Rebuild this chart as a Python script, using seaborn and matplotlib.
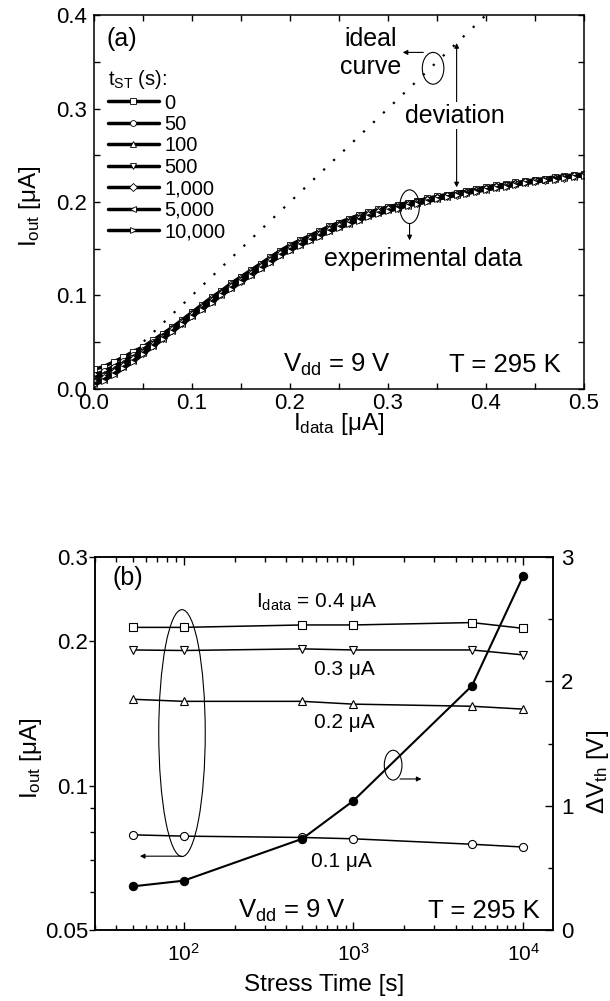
import matplotlib
matplotlib.use("Agg")
import matplotlib.pyplot as plt
from matplotlib.patches import Ellipse
from matplotlib.ticker import MultipleLocator, FixedLocator, FixedFormatter, NullFormatter, LogLocator, FormatStrFormatter
import seaborn as sns

sns.set_style("ticks")
plt.rcParams["font.family"] = ["Liberation Sans", "DejaVu Sans"]
plt.rcParams["mathtext.fontset"] = "custom"
plt.rcParams["mathtext.rm"] = "Liberation Sans"
plt.rcParams["mathtext.it"] = "Liberation Sans"
plt.rcParams["mathtext.default"] = "regular"
plt.rcParams["axes.linewidth"] = 1.1
plt.rcParams["axes.edgecolor"] = "black"
plt.rcParams["text.color"] = "black"
plt.rcParams["xtick.color"] = "black"
plt.rcParams["ytick.color"] = "black"
plt.rcParams["axes.labelcolor"] = "black"

# ---- panel (a): output current vs data current, one curve per stress time ----
i_data = [0.00, 0.01, 0.02, 0.03, 0.04, 0.05, 0.06, 0.07, 0.08, 0.09,
          0.10, 0.11, 0.12, 0.13, 0.14, 0.15, 0.16, 0.17, 0.18, 0.19,
          0.20, 0.21, 0.22, 0.23, 0.24, 0.25, 0.26, 0.27, 0.28, 0.29,
          0.30, 0.31, 0.32, 0.33, 0.34, 0.35, 0.36, 0.37, 0.38, 0.39,
          0.40, 0.41, 0.42, 0.43, 0.44, 0.45, 0.46, 0.47, 0.48, 0.49, 0.50]

iout_t0 = [0.021, 0.024, 0.029, 0.034, 0.040, 0.045, 0.052, 0.059, 0.066, 0.074,
           0.082, 0.090, 0.098, 0.105, 0.113, 0.120, 0.127, 0.134, 0.141, 0.148,
           0.154, 0.159, 0.164, 0.169, 0.174, 0.178, 0.182, 0.186, 0.189, 0.192,
           0.195, 0.197, 0.199, 0.201, 0.204, 0.206, 0.208, 0.210, 0.212, 0.214,
           0.216, 0.218, 0.219, 0.221, 0.222, 0.224, 0.225, 0.227, 0.228, 0.229, 0.230]
iout_t50 = [0.015, 0.019, 0.024, 0.030, 0.036, 0.042, 0.050, 0.057, 0.065, 0.073,
            0.081, 0.089, 0.097, 0.104, 0.112, 0.119, 0.126, 0.133, 0.140, 0.147,
            0.153, 0.158, 0.163, 0.168, 0.173, 0.177, 0.181, 0.185, 0.188, 0.191,
            0.194, 0.197, 0.199, 0.201, 0.203, 0.205, 0.207, 0.209, 0.211, 0.213,
            0.215, 0.217, 0.218, 0.220, 0.221, 0.223, 0.224, 0.226, 0.227, 0.228, 0.229]
iout_t100 = [0.012, 0.016, 0.021, 0.028, 0.034, 0.041, 0.049, 0.056, 0.064, 0.072,
             0.080, 0.088, 0.096, 0.104, 0.111, 0.118, 0.125, 0.132, 0.139, 0.146,
             0.152, 0.157, 0.162, 0.167, 0.172, 0.176, 0.180, 0.184, 0.187, 0.190,
             0.193, 0.196, 0.198, 0.200, 0.203, 0.205, 0.207, 0.209, 0.211, 0.213,
             0.215, 0.217, 0.218, 0.220, 0.221, 0.223, 0.224, 0.226, 0.227, 0.228, 0.229]
iout_t500 = [0.009, 0.014, 0.019, 0.026, 0.033, 0.040, 0.048, 0.056, 0.064, 0.072,
             0.080, 0.087, 0.095, 0.102, 0.110, 0.117, 0.124, 0.131, 0.138, 0.145,
             0.151, 0.156, 0.161, 0.166, 0.171, 0.175, 0.179, 0.183, 0.186, 0.189,
             0.192, 0.195, 0.197, 0.200, 0.202, 0.204, 0.206, 0.208, 0.210, 0.212,
             0.214, 0.216, 0.218, 0.219, 0.221, 0.222, 0.224, 0.225, 0.227, 0.228, 0.229]
iout_t1000 = [0.007, 0.012, 0.018, 0.025, 0.032, 0.039, 0.047, 0.055, 0.063, 0.071,
              0.079, 0.087, 0.094, 0.102, 0.109, 0.116, 0.123, 0.130, 0.137, 0.144,
              0.150, 0.155, 0.160, 0.165, 0.170, 0.174, 0.178, 0.182, 0.186, 0.189,
              0.192, 0.194, 0.197, 0.199, 0.202, 0.204, 0.206, 0.208, 0.210, 0.212,
              0.214, 0.216, 0.217, 0.219, 0.221, 0.222, 0.224, 0.225, 0.226, 0.228, 0.229]
iout_t5000 = [0.005, 0.010, 0.016, 0.023, 0.030, 0.038, 0.046, 0.054, 0.062, 0.070,
              0.078, 0.086, 0.093, 0.101, 0.108, 0.115, 0.122, 0.129, 0.136, 0.143,
              0.149, 0.154, 0.159, 0.164, 0.169, 0.173, 0.177, 0.181, 0.185, 0.188,
              0.191, 0.194, 0.196, 0.199, 0.201, 0.203, 0.205, 0.208, 0.210, 0.212,
              0.213, 0.215, 0.217, 0.219, 0.220, 0.222, 0.223, 0.225, 0.226, 0.227, 0.228]
iout_t10000 = [0.004, 0.009, 0.015, 0.022, 0.029, 0.037, 0.045, 0.053, 0.061, 0.069,
               0.077, 0.085, 0.092, 0.100, 0.107, 0.114, 0.121, 0.128, 0.135, 0.142,
               0.148, 0.153, 0.158, 0.163, 0.168, 0.172, 0.176, 0.180, 0.184, 0.187,
               0.190, 0.193, 0.196, 0.198, 0.200, 0.203, 0.205, 0.207, 0.209, 0.211,
               0.213, 0.215, 0.216, 0.218, 0.220, 0.221, 0.223, 0.224, 0.226, 0.227, 0.228]

stress_labels = ["0", "50", "100", "500", "1,000", "5,000", "10,000"]
stress_markers = ["s", "o", "^", "v", "D", "<", ">"]

ideal_x = [0.0, 0.4]
ideal_y = [0.0, 0.4]

# ---- panel (b): output current and threshold shift vs stress time ----
stress_time = [50, 100, 500, 1000, 5000, 10000]
iout_04uA = [0.214, 0.214, 0.2165, 0.2165, 0.219, 0.213]
iout_03uA = [0.192, 0.1915, 0.193, 0.192, 0.192, 0.1875]
iout_02uA = [0.1515, 0.150, 0.150, 0.148, 0.1465, 0.1445]
iout_01uA = [0.079, 0.0785, 0.078, 0.0775, 0.0755, 0.0745]
delta_vth = [0.351, 0.397, 0.734, 1.04, 1.965, 2.846]

fig = plt.figure(figsize=(6.1, 10.01), dpi=100)

# ================= panel (a) =================
ax_a = fig.add_axes([0.1541, 0.6114, 0.8033, 0.3736])

sns.lineplot(x=ideal_x, y=ideal_y, ax=ax_a, color="black", linewidth=1.6,
             linestyle=(0, (1, 5.2)), sort=False)

all_curves = [iout_t0, iout_t50, iout_t100, iout_t500, iout_t1000, iout_t5000, iout_t10000]
for lab, mk, vals in zip(stress_labels, stress_markers, all_curves):
    ms = 3.6 if mk == "D" else 4.2
    sns.lineplot(x=i_data, y=vals, ax=ax_a, color="black", linewidth=2.5, marker=mk,
                 markersize=ms, markerfacecolor="white", markeredgecolor="black",
                 markeredgewidth=0.6, label=lab, sort=False)

handles, labels = ax_a.get_legend_handles_labels()
handles, labels = handles[-7:], labels[-7:]
ax_a.legend(handles, labels, title="t$_{ST}$ (s):", loc="upper left",
            bbox_to_anchor=(0.029, 0.858), frameon=False, fontsize=14.5,
            title_fontsize=14.5, handlelength=2.5, handletextpad=0.3,
            labelspacing=0.12, borderpad=0, borderaxespad=0, alignment="left")

ax_a.set_xlim(0, 0.5)
ax_a.set_ylim(0, 0.4)
ax_a.xaxis.set_major_locator(MultipleLocator(0.1))
ax_a.xaxis.set_minor_locator(MultipleLocator(0.05))
ax_a.yaxis.set_major_locator(MultipleLocator(0.1))
ax_a.yaxis.set_minor_locator(MultipleLocator(0.05))
ax_a.xaxis.set_major_formatter(FormatStrFormatter("%.1f"))
ax_a.yaxis.set_major_formatter(FormatStrFormatter("%.1f"))
ax_a.tick_params(which="both", direction="in", top=True, right=True, length=4.5,
                 width=1.0, labelsize=16)
ax_a.tick_params(axis="x", pad=3)
ax_a.tick_params(axis="y", pad=5)

ax_a.set_xlabel("I$_{data}$ [μA]", fontsize=17.5)
ax_a.set_ylabel("I$_{out}$ [μA]", fontsize=17.5)
ax_a.xaxis.set_label_coords(0.5, -0.058)
ax_a.yaxis.set_label_coords(-0.105, 0.49)

ax_a.text(0.0265, 0.936, "(a)", transform=ax_a.transAxes, fontsize=18,
          ha="left", va="center")
ax_a.text(0.282, 0.374, "ideal", fontsize=18, ha="center", va="center")
ax_a.text(0.282, 0.344, "curve", fontsize=18, ha="center", va="center")
ax_a.add_patch(Ellipse((0.346, 0.343), 0.022, 0.034, fill=False, lw=0.8, ec="black"))
ax_a.annotate("", xy=(0.315, 0.360), xytext=(0.336, 0.360),
              arrowprops=dict(arrowstyle="-|>", lw=0.8, color="black",
                              mutation_scale=7, shrinkA=0, shrinkB=0))
ax_a.annotate("", xy=(0.370, 0.370), xytext=(0.370, 0.2157),
              arrowprops=dict(arrowstyle="<|-|>", lw=0.8, color="black",
                              mutation_scale=7, shrinkA=0, shrinkB=0))
ax_a.text(0.368, 0.292, "deviation", fontsize=18, ha="center", va="center", zorder=6,
          bbox=dict(facecolor="white", edgecolor="none", pad=1.0))
ax_a.add_patch(Ellipse((0.322, 0.195), 0.02, 0.036, fill=False, lw=0.8, ec="black", zorder=5))
ax_a.annotate("", xy=(0.322, 0.159), xytext=(0.322, 0.177),
              arrowprops=dict(arrowstyle="-|>", lw=0.8, color="black",
                              mutation_scale=7, shrinkA=0, shrinkB=0))
ax_a.text(0.336, 0.1316, "experimental data", fontsize=18, ha="center", va="baseline")
ax_a.text(0.248, 0.018, "V$_{dd}$ = 9 V", fontsize=18.5, ha="center", va="baseline")
ax_a.text(0.419, 0.018, "T = 295 K", fontsize=18.5, ha="center", va="baseline")

# ================= panel (b) =================
ax_b = fig.add_axes([0.1557, 0.0709, 0.7508, 0.3726])
ax_b.set_xscale("log")
ax_b.set_yscale("log")

iout_series = [(iout_04uA, "s"), (iout_03uA, "v"), (iout_02uA, "^"), (iout_01uA, "o")]
for vals, mk in iout_series:
    sns.lineplot(x=stress_time, y=vals, ax=ax_b, color="black", linewidth=1.1, marker=mk,
                 markersize=5.8, markerfacecolor="white", markeredgecolor="black",
                 markeredgewidth=0.8, sort=False)

ax_b.set_xlim(30, 15000)
ax_b.set_ylim(0.05, 0.3)
ax_b.yaxis.set_major_locator(FixedLocator([0.05, 0.1, 0.2, 0.3]))
ax_b.yaxis.set_major_formatter(FixedFormatter(["0.05", "0.1", "0.2", "0.3"]))
ax_b.yaxis.set_minor_locator(FixedLocator([0.06, 0.07, 0.08, 0.09]))
ax_b.yaxis.set_minor_formatter(NullFormatter())
ax_b.xaxis.set_major_locator(LogLocator(base=10))
ax_b.xaxis.set_minor_locator(LogLocator(base=10, subs=[2, 3, 4, 5, 6, 7, 8, 9]))
ax_b.xaxis.set_minor_formatter(NullFormatter())

ax2 = ax_b.twinx()
sns.lineplot(x=stress_time, y=delta_vth, ax=ax2, color="black", linewidth=1.5, marker="o",
             markersize=6, markerfacecolor="black", markeredgecolor="black", sort=False)
ax2.set_ylim(0, 3)
ax2.yaxis.set_major_locator(MultipleLocator(1))
ax2.yaxis.set_minor_locator(MultipleLocator(0.5))
ax2.yaxis.set_major_formatter(FormatStrFormatter("%d"))

ax_b.tick_params(axis="x", which="both", direction="in", top=True, bottom=True, width=1.0)
ax_b.tick_params(axis="x", which="major", length=5.5, pad=9, labelsize=15)
ax_b.tick_params(axis="x", which="minor", length=3.5)
ax_b.tick_params(axis="y", which="both", direction="out", left=True, right=False, width=1.0)
ax_b.tick_params(axis="y", which="major", length=4.5, pad=0.5, labelsize=16)
ax_b.tick_params(axis="y", which="minor", length=3.5)
ax2.tick_params(axis="y", which="both", direction="in", right=True, width=1.0)
ax2.tick_params(axis="y", which="major", length=5.5, pad=6, labelsize=16)
ax2.tick_params(axis="y", which="minor", length=3.5)

ax_b.set_xlabel("Stress Time [s]", fontsize=17.5)
ax_b.set_ylabel("I$_{out}$ [μA]", fontsize=17.5)
ax2.set_ylabel("ΔV$_{th}$ [V]", fontsize=17.5)
ax_b.xaxis.set_label_coords(0.5, -0.118)
ax_b.yaxis.set_label_coords(-0.111, 0.46)
ax2.yaxis.set_label_coords(1.07, 0.424)

ax2.text(0.039, 0.944, "(b)", transform=ax2.transAxes, fontsize=18, ha="left", va="center")
ax2.text(0.485, 0.866, "I$_{data}$ = 0.4 μA", transform=ax2.transAxes, fontsize=15,
         ha="center", va="baseline")
ax2.text(0.544, 0.684, "0.3 μA", transform=ax2.transAxes, fontsize=15, ha="center", va="baseline")
ax2.text(0.544, 0.541, "0.2 μA", transform=ax2.transAxes, fontsize=15, ha="center", va="baseline")
ax2.text(0.537, 0.17, "0.1 μA", transform=ax2.transAxes, fontsize=15, ha="center", va="baseline")
ax2.text(0.431, 0.032, "V$_{dd}$ = 9 V", transform=ax2.transAxes, fontsize=18.5,
         ha="center", va="baseline")
ax2.text(0.849, 0.032, "T = 295 K", transform=ax2.transAxes, fontsize=18.5,
         ha="center", va="baseline")

ax2.add_patch(Ellipse((0.19, 0.528), 0.1015, 0.662, transform=ax2.transAxes,
                      fill=False, lw=0.8, ec="black"))
ax2.annotate("", xy=(0.098, 0.198), xytext=(0.19, 0.198), xycoords="axes fraction",
             arrowprops=dict(arrowstyle="-|>", lw=0.8, color="black",
                             mutation_scale=7, shrinkA=0, shrinkB=0))
ax2.add_patch(Ellipse((0.651, 0.442), 0.0386, 0.08, transform=ax2.transAxes,
                      fill=False, lw=0.8, ec="black"))
ax2.annotate("", xy=(0.713, 0.405), xytext=(0.666, 0.405), xycoords="axes fraction",
             arrowprops=dict(arrowstyle="-|>", lw=0.8, color="black",
                             mutation_scale=7, shrinkA=0, shrinkB=0))

fig.savefig("out.png", dpi=100)
